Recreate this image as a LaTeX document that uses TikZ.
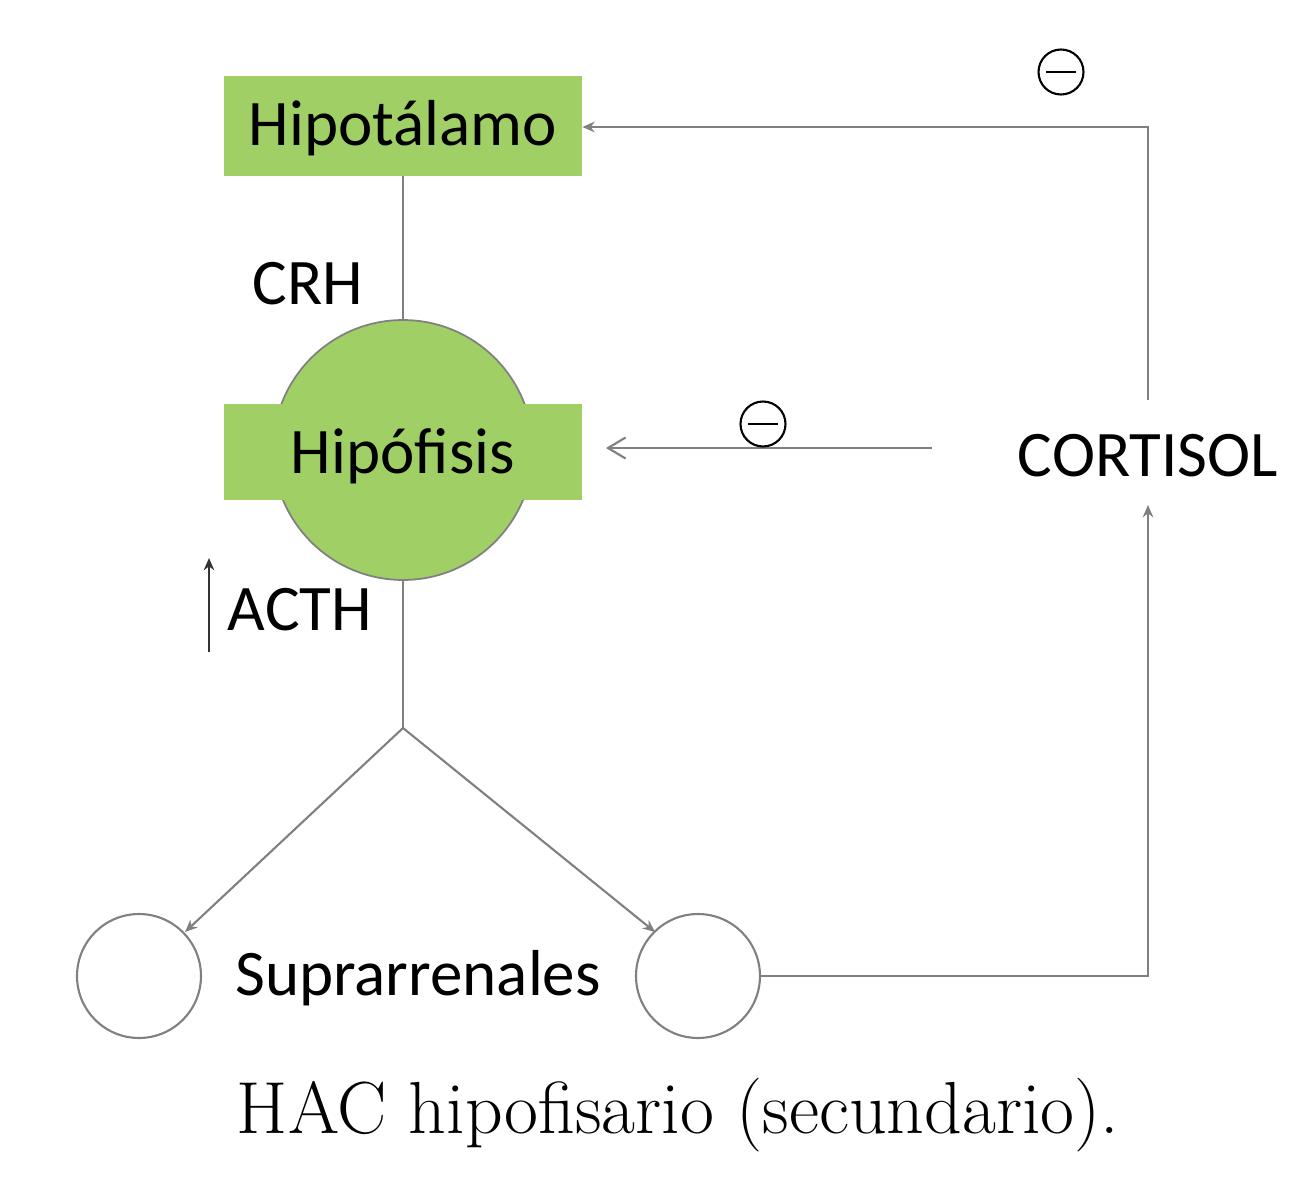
\documentclass[tikz,border=0pt]{standalone}
\usepackage{fontspec}
\setsansfont{Carlito}
\usetikzlibrary{arrows.meta}
\definecolor{gr}{HTML}{A0CF66}
\definecolor{ln}{HTML}{808080}
\begin{document}
\begin{tikzpicture}[x=0.02cm,y=-0.02cm,
  lbl/.style={font=\sffamily\fontsize{37}{42}\selectfont, inner sep=0},
  conn/.style={draw=ln, line width=1.2pt},
  tip/.style={-{Stealth[length=7pt,width=6pt]}},
  gland/.style={circle, draw=ln, line width=1.2pt, minimum size=2.48cm, inner sep=0},
  minus/.style={circle, draw=black, line width=1.2pt, minimum size=0.9cm, inner sep=0}]
\useasboundingbox (0,0) rectangle (1295,1200);
\node[circle, fill=gr, draw=ln, line width=1pt, minimum size=5.2cm, inner sep=0] (hipcirc) at (403,450) {};
\node[fill=gr, minimum width=7.16cm, minimum height=2cm, inner sep=0] (hipt) at (403,126) {};
\node[lbl] at (403,128) {Hipotálamo};
\node[fill=gr, minimum width=7.16cm, minimum height=1.94cm, inner sep=0] (hipf) at (403,452) {};
\node[lbl] at (403,456) {Hipófisis};
\draw[conn] (hipt.south) -- (hipcirc.north);
\node[lbl] at (308,284) {CRH};
\node[lbl] at (300,610) {ACTH};
\coordinate (a1) at (209,652); \coordinate (a2) at (209,558);
\draw[conn,black!80,line width=0.9pt,tip] (a1) -- (a2);
\coordinate (split) at (403,728);
\draw[conn] (hipcirc.south) -- (split);
\node[gland] (sl) at (139,976) {};
\node[gland] (sr) at (698,976) {};
\draw[conn,tip] (split) -- (185,932);
\draw[conn,tip] (split) -- (655,932);
\node[lbl] at (418,978) {Suprarrenales};
\node[lbl] (cort) at (1148,456) {CORTISOL};
\coordinate (c1) at (1148,976);
\draw[conn,tip] (sr.east) -- (c1) -- (1148,505);
\coordinate (c2) at (1148,127);
\draw[conn,tip] (1148,400) -- (c2) -- (hipt.east |- c2);
\coordinate (f1) at (932,448);
\draw[conn,-{Straight Barb[length=10pt,width=12pt]}] (f1) -- (606,448);
\node[minus] (m1) at (1061,72) {};
\draw[line width=1.5pt] (1046,72) -- (1076,72);
\node[minus] (m2) at (763,424) {};
\draw[line width=1.5pt] (748,424) -- (778,424);
\node[font=\fontsize{42}{48}\selectfont, inner sep=0] (cap) at (678,1115) {HAC hipofisario (secundario).};
\end{tikzpicture}
\end{document}
